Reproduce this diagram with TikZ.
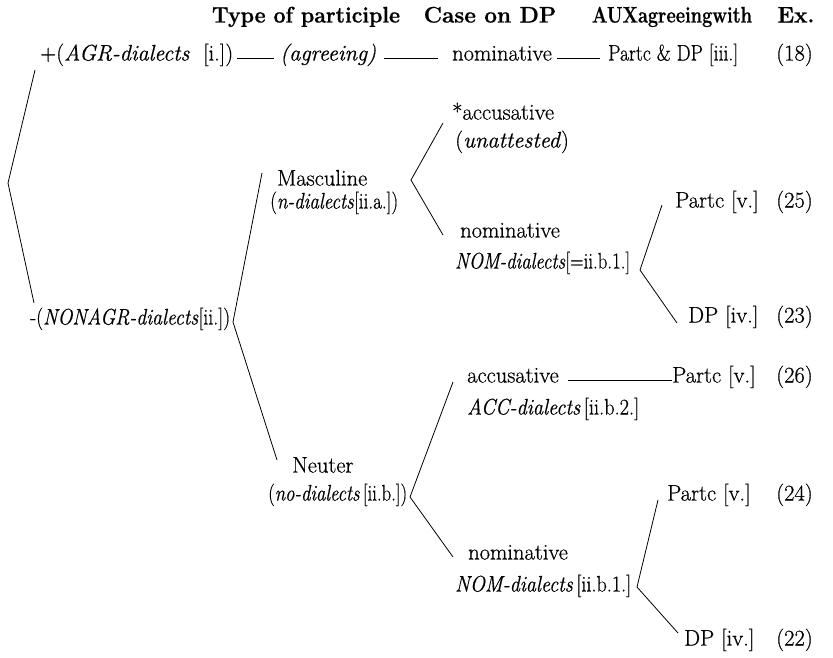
\documentclass[tikz,border=0pt]{standalone}
\usepackage{fontspec}
\setmainfont{Latin Modern Roman}[
  UprightFeatures={FakeBold=0.6},
  ItalicFeatures={FakeBold=0.6},
  BoldFeatures={FakeBold=0.8}]
% squeeze a piece of text horizontally to a given width (in pt), keeping its height
\newcommand{\fitto}[2]{\resizebox{#1pt}{\height}{#2}}
\begin{document}
\begin{tikzpicture}[x=1pt,y=-1pt,
  every node/.style={inner sep=0pt, text height=0.7em, text depth=0.2em,
    font=\fontsize{22.5}{27}\selectfont},
  head/.style={font=\fontsize{22.5}{27}\selectfont\bfseries},
  lbl/.style={anchor=west},
  exnum/.style={anchor=east},
  branch/.style={line width=0.8pt, line join=miter},
  link/.style={line width=0.8pt}]
\useasboundingbox (0,0) rectangle (833,657);

% column heads
\node[head] (hType) at (306,20) {\fitto{188}{Type of participle}};
\node[head] (hCase) at (490,20) {Case on DP};
\node[head] (hAux)  at (672,20) {\fitto{160}{AUXagreeingwith}};
\node[head] (hEx)   at (796,20) {Ex.};

% agreeing branch
\node[lbl] (agr)      at (40,58)  {\fitto{193}{+(\textit{AGR-dialects}\ \ [i.])}};
\node[lbl] (agreeing) at (280,58) {\textit{(agreeing)}};
\node[lbl] (nomI)     at (452,58) {nominative};
\node[lbl] (pdp)      at (608,58) {\fitto{130}{Partc \& DP [iii.]}};
\node[exnum] (ex18)   at (813,58) {(18)};

% non-agreeing branch
\node[lbl] (nonagr) at (30,322) {\fitto{200}{-(\textit{NONAGR-dialects}[ii.])}};

% masculine
\node[lbl] (masc)  at (277,183) {Masculine};
\node[lbl] (mascB) at (270,206) {\fitto{128}{(\textit{n-dialects}[ii.a.])}};
\node[lbl] (accU)  at (452,117) {*accusative};
\node[lbl] (accUB) at (455,145) {(\textit{unattested})};
\node[lbl] (nomA)  at (460,235) {nominative};
\node[lbl] (nomAB) at (455,266) {\fitto{175}{\textit{NOM-dialects}[=ii.b.1.]}};
\node[lbl] (p25)   at (675,205) {Partc [v.]};
\node[exnum] (ex25) at (813,205) {(25)};
\node[lbl] (dp23)  at (688,320) {DP [iv.]};
\node[exnum] (ex23) at (813,320) {(23)};

% neuter
\node[lbl] (neut)  at (292,470) {Neuter};
\node[lbl] (neutB) at (268,498) {\fitto{139}{(\textit{no-dialects}\,[ii.b.])}};
\node[lbl] (accB)  at (467,380) {accusative};
\node[lbl] (accBB) at (467,412) {\fitto{172}{\textit{ACC-dialects}\,[ii.b.2.]}};
\node[lbl] (p26)   at (672,380) {Partc [v.]};
\node[exnum] (ex26) at (813,380) {(26)};
\node[lbl] (nomB)  at (468,557) {nominative};
\node[lbl] (nomBB) at (455,589) {\fitto{176}{\textit{NOM-dialects}\,[ii.b.1.]}};
\node[lbl] (p24)   at (667,498) {Partc [v.]};
\node[exnum] (ex24) at (813,498) {(24)};
\node[lbl] (dp22)  at (684,643) {DP [iv.]};
\node[exnum] (ex22) at (813,643) {(22)};

% branching points and branch ends
\coordinate (rTop) at (35,70);   \coordinate (rApex) at (8,183);   \coordinate (rBot) at (34,303);
\coordinate (nUp) at (262,173);  \coordinate (nApex) at (233,322); \coordinate (nDown) at (277,460);
\coordinate (mUp) at (443,123);  \coordinate (mApex) at (411,180); \coordinate (mDown) at (443,235);
\coordinate (aUp) at (662,205);  \coordinate (aApex) at (640,270); \coordinate (aDown) at (677,323);
\coordinate (tUp) at (453,382);  \coordinate (tApex) at (410,497); \coordinate (tDown) at (453,557);
\coordinate (bUp) at (658,500);  \coordinate (bApex) at (637,587); \coordinate (bDown) at (678,633);

\draw[branch] (rTop) -- (rApex) -- (rBot);
\draw[branch] (nUp) -- (nApex) -- (nDown);
\draw[branch] (mUp) -- (mApex) -- (mDown);
\draw[branch] (aUp) -- (aApex) -- (aDown);
\draw[branch] (tUp) -- (tApex) -- (tDown);
\draw[branch] (bUp) -- (bApex) -- (bDown);

% horizontal links
\draw[link, shorten <=4pt, shorten >=6pt]  (agr.east) -- (agreeing.west);
\draw[link, shorten <=8pt, shorten >=14pt] (agreeing.east) -- (nomI.west);
\draw[link, shorten <=5pt, shorten >=8pt]  (nomI.east) -- (pdp.west);
\draw[link, shorten <=9pt]                 (accB.east) -- (p26.west);
\end{tikzpicture}
\end{document}
